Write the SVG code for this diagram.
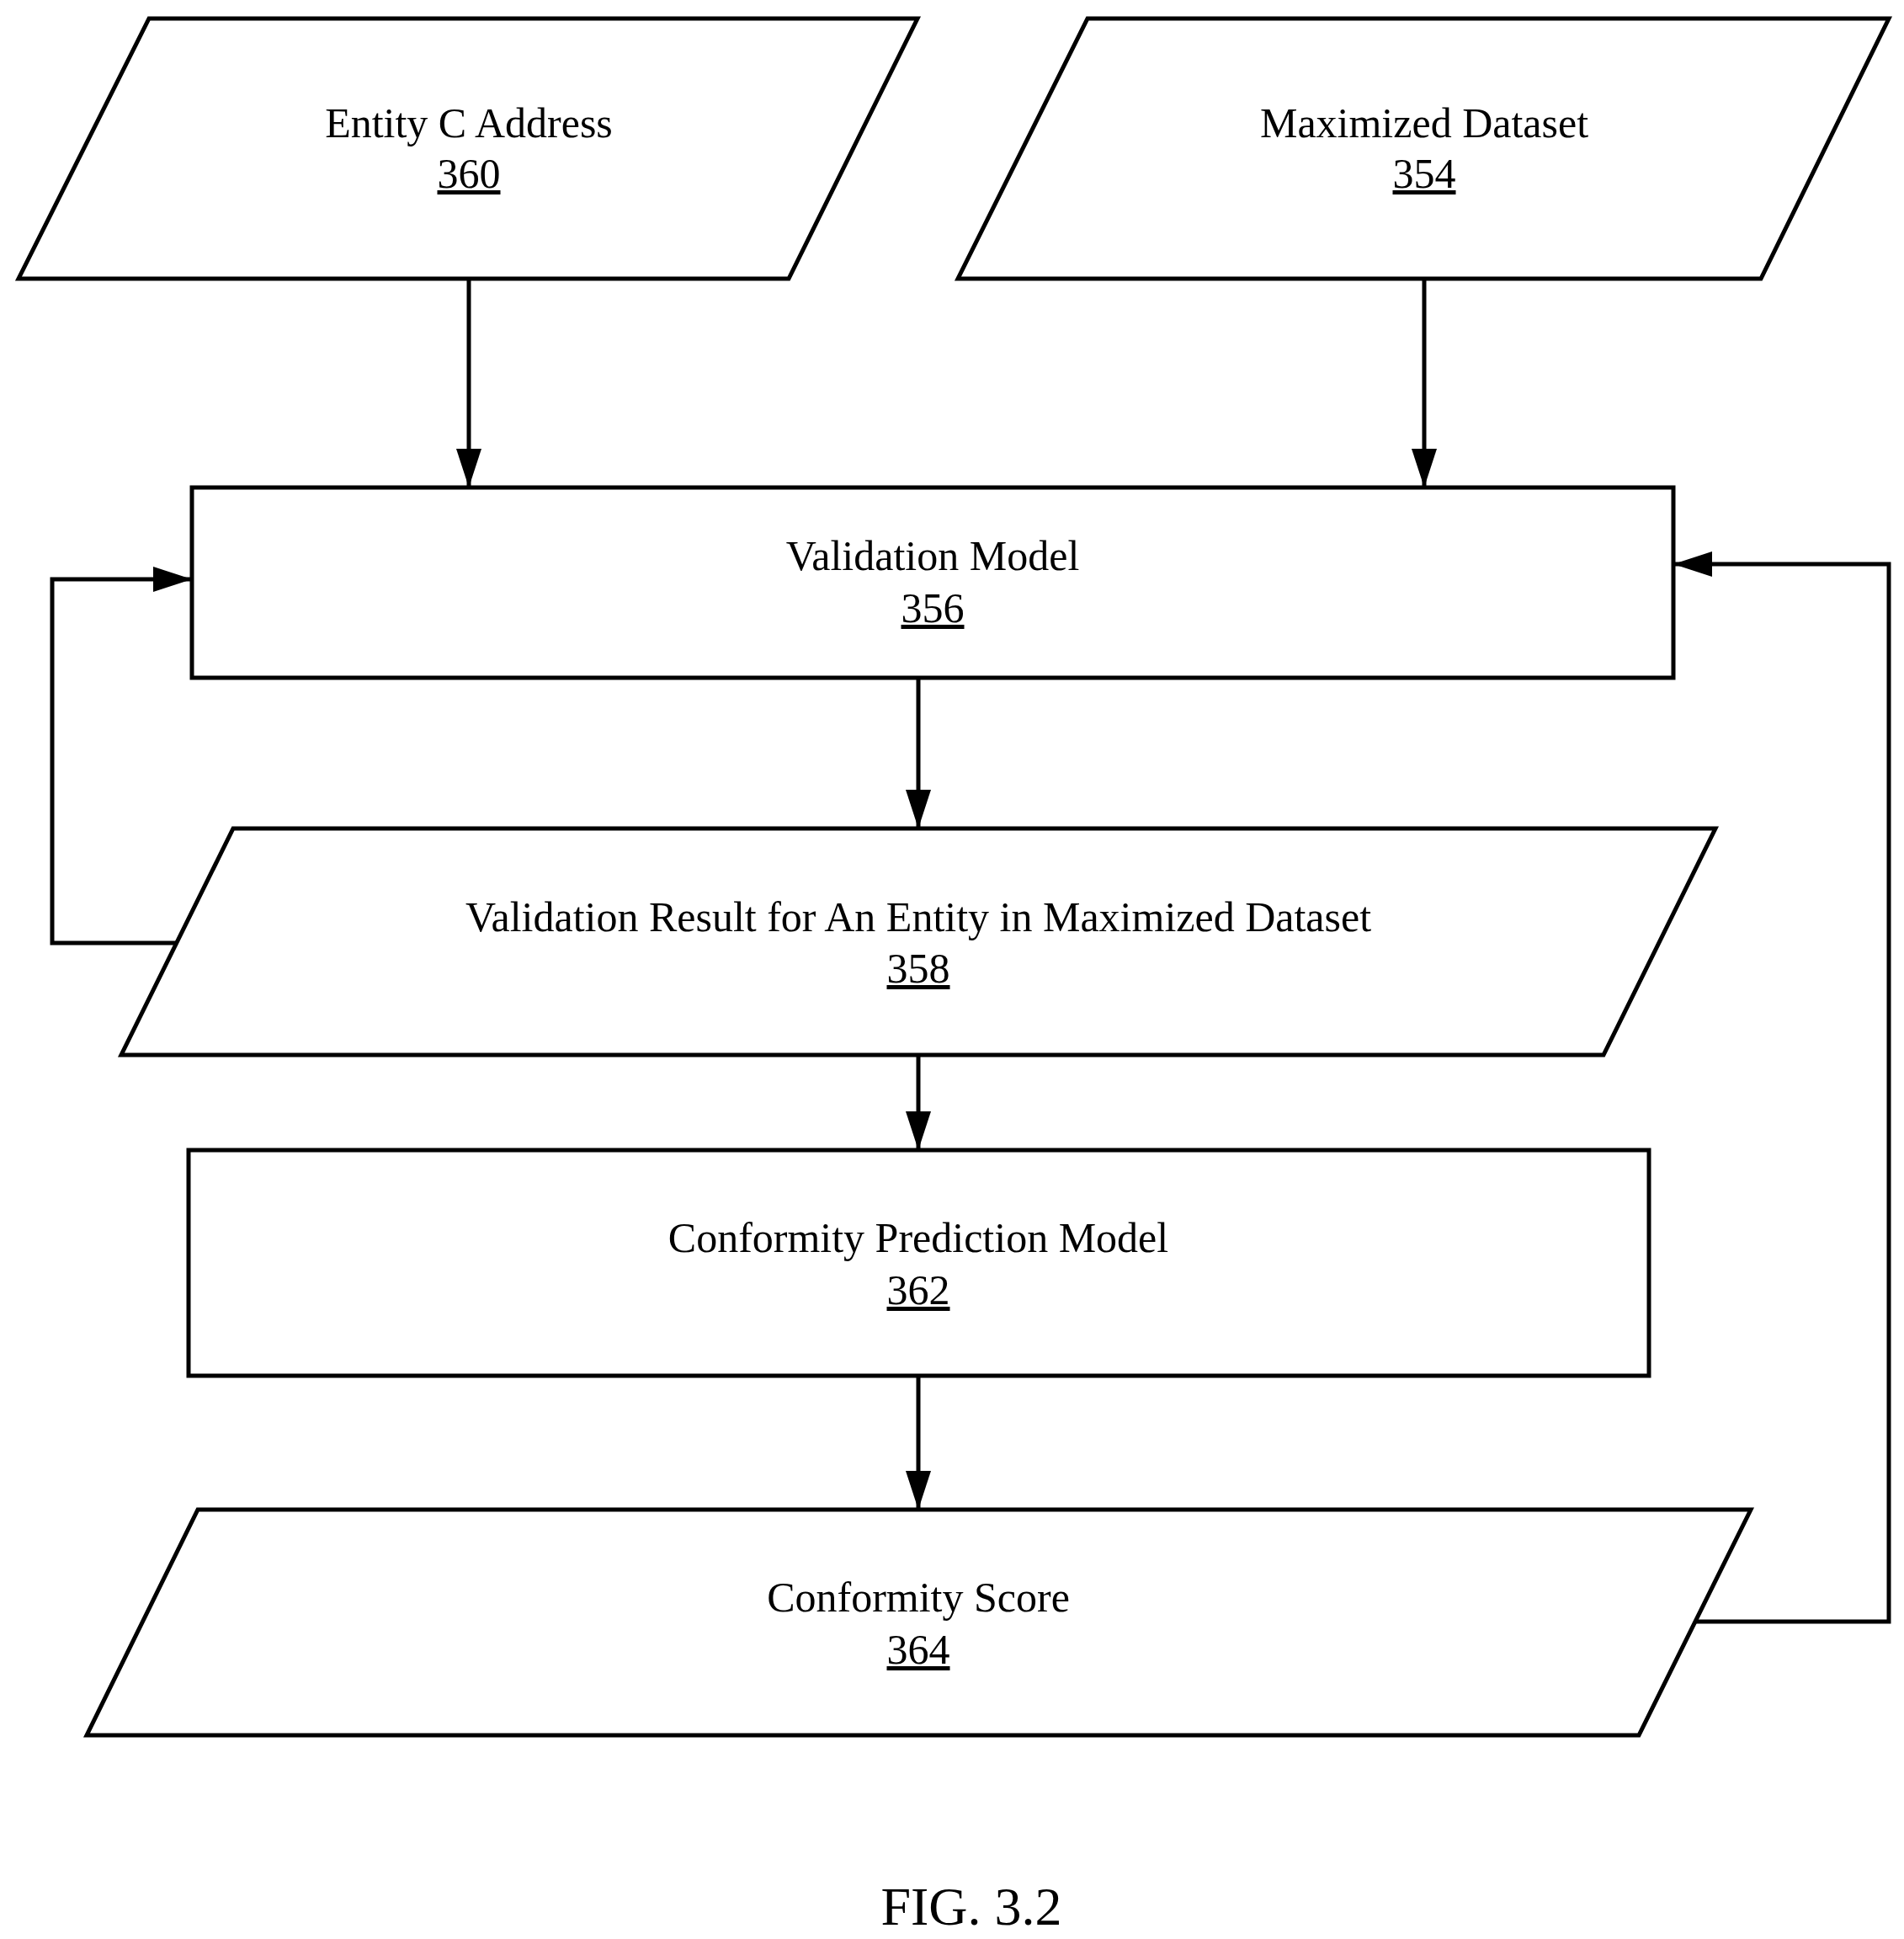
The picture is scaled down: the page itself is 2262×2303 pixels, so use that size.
<svg xmlns="http://www.w3.org/2000/svg" width="2262" height="2303" viewBox="0 0 2262 2303">
<style>
.s{fill:#fff;stroke:#000;stroke-width:5}
.t{font-family:"Liberation Serif",serif;font-size:50px;text-anchor:middle;fill:#000}
.u{text-decoration:underline}
.c{fill:none;stroke:#000;stroke-width:5}
</style>
<defs>
<marker id="b" markerWidth="46" markerHeight="30" refX="46" refY="15" orient="auto" markerUnits="userSpaceOnUse"><path d="M0,0 L46,15 L0,30 z" fill="#000"/></marker></defs>
<g id="n360"><polygon class="s" points="177,22 1090,22 937,331 22,331"/><text class="t" x="557" y="163">Entity C Address</text><text class="t u" x="557" y="223">360</text></g>
<g id="n354"><polygon class="s" points="1292,22 2244,22 2092,331 1138,331"/><text class="t" x="1692" y="163">Maximized Dataset</text><text class="t u" x="1692" y="223">354</text></g>
<g id="n356"><rect class="s" x="228" y="579" width="1760" height="226"/><text class="t" x="1108" y="677">Validation Model</text><text class="t u" x="1108" y="739">356</text></g>
<g id="n358"><polygon class="s" points="277,984 2038,984 1905,1253 144,1253"/><text class="t" x="1091" y="1106">Validation Result for An Entity in Maximized Dataset</text><text class="t u" x="1091" y="1167">358</text></g>
<g id="n362"><rect class="s" x="224" y="1366" width="1735" height="268"/><text class="t" x="1091" y="1487">Conformity Prediction Model</text><text class="t u" x="1091" y="1549">362</text></g>
<g id="n364"><polygon class="s" points="235,1793 2080,1793 1947,2061 103,2061"/><text class="t" x="1091" y="1914">Conformity Score</text><text class="t u" x="1091" y="1976">364</text></g>
<g id="connectors">
<line class="c" x1="557" y1="331" x2="557" y2="579" marker-end="url(#b)"/>
<line class="c" x1="1692" y1="331" x2="1692" y2="579" marker-end="url(#b)"/>
<line class="c" x1="1091" y1="805" x2="1091" y2="984" marker-end="url(#b)"/>
<line class="c" x1="1091" y1="1253" x2="1091" y2="1366" marker-end="url(#b)"/>
<line class="c" x1="1091" y1="1634" x2="1091" y2="1793" marker-end="url(#b)"/>
<polyline class="c" points="210,1120 62,1120 62,688 228,688" marker-end="url(#b)"/>
<polyline class="c" points="2014,1926 2244,1926 2244,670 1988,670" marker-end="url(#b)"/>
</g>
<text x="1154" y="2286" style="font-family:'Liberation Serif',serif;font-size:64px;text-anchor:middle">FIG. 3.2</text>
</svg>
